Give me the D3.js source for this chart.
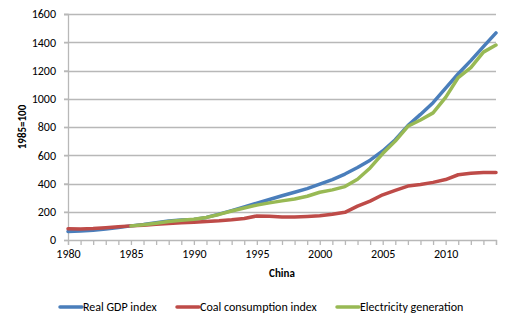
<!DOCTYPE html>
<html>
<head>
<meta charset="utf-8">
<script src="https://cdn.jsdelivr.net/npm/d3@7"></script>
<style>
body { margin:0; background:#fff; }
svg text { font-family: Carlito, Lato, "Liberation Sans", sans-serif; fill:#000; }
</style>
</head>
<body>
<svg id="chart"></svg>
<script>
var screen = {width:521,height:325}
var margins = {top:14,right:25,left:68,bottom:85}

var years = d3.range(1980,2015)
var gdp = [60,63,69,77,88,100,109,122,135,141,146,160,183,208,235,261,287,313,338,364,395,428,467,513,565,630,710,810,889,972,1075,1177,1270,1369,1466]
var coal = [80,78,81,87,94,100,105,111,117,122,126,131,136,143,152,170,169,163,162,167,172,182,196,240,275,320,352,382,393,408,428,462,472,478,478]
// electricity starts in 1985
var elecYears = d3.range(1985,2015)
var elec = [100,108,119,131,139,147,160,181,205,227,247,263,277,290,310,338,355,378,430,510,612,700,805,850,900,1010,1150,1220,1330,1380]

var seriesNames = ["Real GDP index","Coal consumption index","Electricity generation"]
var seriesColors = ["#4A7EBB","#BE4B48","#98B954"]
var yTicks = [0,200,400,600,800,1000,1200,1400,1600]
var xLabels = [1980,1985,1990,1995,2000,2005,2010]

var width = screen.width - margins.left - margins.right
var height = screen.height - margins.top - margins.bottom

var svg = d3.select("#chart")
    .attr("width",screen.width)
    .attr("height",screen.height)

var xScale = d3.scaleLinear()
               .domain([1980,2014])
               .range([margins.left,margins.left+width])
var yScale = d3.scaleLinear()
               .domain([0,1600])
               .range([margins.top+height,margins.top])

// gridlines
svg.append("g")
   .selectAll("line")
   .data(yTicks.slice(1))
   .enter()
   .append("line")
   .attr("x1",margins.left-4)
   .attr("x2",margins.left+width)
   .attr("y1",function(d){return Math.round(yScale(d))+0.5})
   .attr("y2",function(d){return Math.round(yScale(d))+0.5})
   .attr("stroke","#B8B8B8")
   .attr("stroke-width",1.3)

// y axis
var yAxis = d3.axisLeft(yScale)
              .tickValues(yTicks)
              .tickFormat(d3.format("d"))
              .tickSize(4)
              .tickPadding(8)
svg.append("g")
   .attr("id","yAxis")
   .attr("transform","translate("+margins.left+",0)")
   .call(yAxis)

// x axis with a tick every year, labels every 5
var xAxis = d3.axisBottom(xScale)
              .tickValues(years)
              .tickSize(5)
              .tickPadding(4)
              .tickFormat(function(d){return xLabels.indexOf(d)>=0 ? d : ""})
svg.append("g")
   .attr("id","xAxis")
   .attr("transform","translate(0,"+(margins.top+height)+")")
   .call(xAxis)

svg.selectAll("#xAxis path, #yAxis path, #xAxis line, #yAxis line")
   .attr("stroke","#B8B8B8")
   .attr("stroke-width",1.3)
svg.selectAll("#xAxis text, #yAxis text")
   .attr("font-size","12px")
   .attr("font-family","Carlito, Lato, 'Liberation Sans', sans-serif")
   .attr("fill","#000")

// lines
var line = d3.line()
             .x(function(d){return xScale(d[0])})
             .y(function(d){return yScale(d[1])})

var allSeries = [
    d3.zip(years,gdp),
    d3.zip(years,coal),
    d3.zip(elecYears,elec)
]

svg.append("g")
   .selectAll("path")
   .data(allSeries)
   .enter()
   .append("path")
   .attr("d",line)
   .attr("fill","none")
   .attr("stroke",function(d,i){return seriesColors[i]})
   .attr("stroke-width",3.5)
   .attr("stroke-linejoin","round")
   .attr("stroke-linecap","round")

// axis titles
svg.append("text")
   .attr("x",282)
   .attr("y",277)
   .attr("text-anchor","middle")
   .attr("font-size","11px")
   .attr("font-weight","bold")
   .text("China")

svg.append("text")
   .attr("transform","translate(26,127) rotate(-90)")
   .attr("text-anchor","middle")
   .attr("font-size","11px")
   .attr("font-weight","bold")
   .text("1985=100")

// legend
var legendX = [60,177,337]
var legend = svg.append("g")
   .selectAll("g")
   .data(seriesNames)
   .enter()
   .append("g")
   .attr("transform",function(d,i){return "translate("+legendX[i]+",307)"})

legend.append("line")
   .attr("x1",0).attr("x2",22)
   .attr("y1",0).attr("y2",0)
   .attr("stroke",function(d,i){return seriesColors[i]})
   .attr("stroke-width",3.5)
   .attr("stroke-linecap","round")

legend.append("text")
   .attr("x",23)
   .attr("y",4)
   .attr("font-size","12px")
   .text(function(d){return d})
</script>
</body>
</html>
